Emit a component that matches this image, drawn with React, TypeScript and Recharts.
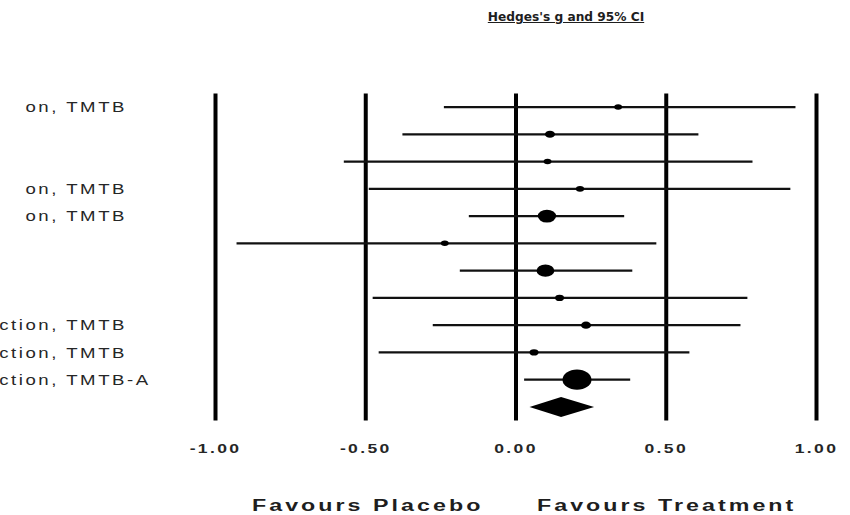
import React from 'react';
import { ScatterChart, Scatter, XAxis, YAxis, ReferenceLine, ErrorBar } from 'recharts';

// ---- data ----
const studyLabels = ['on, TMTB', '', '', 'on, TMTB', 'on, TMTB', '', '', '', 'ction, TMTB', 'ction, TMTB', 'ction, TMTB-A'];
const hedgesG = [0.34, 0.113, 0.105, 0.213, 0.103, -0.237, 0.098, 0.145, 0.233, 0.06, 0.203];
const lowerCI = [-0.24, -0.378, -0.573, -0.49, -0.157, -0.93, -0.187, -0.477, -0.277, -0.457, 0.027];
const upperCI = [0.93, 0.607, 0.787, 0.913, 0.36, 0.467, 0.387, 0.77, 0.747, 0.577, 0.38];
const weights = [2.9, 4.9, 2.9, 3.3, 15.8, 2.9, 15.0, 3.8, 4.9, 3.8, 39.6];
const summaryG = 0.15;
const summaryLower = 0.045;
const summaryUpper = 0.26;
const xTicks = [-1, -0.5, 0, 0.5, 1];
const title = "Hedges's g and 95% CI";
const leftCaption = 'Favours Placebo';
const rightCaption = 'Favours Treatment';

// ---- layout ----
const W = 850;
const H = 515;
const MARGIN = { top: 93.4, right: 33.5, bottom: 64.4, left: 0 };
const Y_AXIS_W = 215.5;
const PLOT_W = W - MARGIN.left - MARGIN.right - Y_AXIS_W;
const X_MIN = -1;
const X_MAX = 1;

const studies = hedgesG.map((g, i) => ({
  row: i + 1,
  g,
  err: [g - lowerCI[i], upperCI[i] - g],
  weight: weights[i],
}));
const summary = [{ row: studies.length + 1, g: summaryG, lower: summaryLower, upper: summaryUpper }];
const rowTicks = studies.map((s) => s.row);

const textColor = '#1e1e1e';
const sansFont = '"Liberation Sans", Arial, sans-serif';

const WeightMarker = (props: any) => {
  const { cx, cy, payload } = props;
  if (cx == null || cy == null) return <g />;
  const rx = Math.sqrt(payload.weight) * 2.3;
  const ry = rx * 0.7;
  return <ellipse cx={cx} cy={cy} rx={rx} ry={ry} fill="#000" />;
};

const SummaryDiamond = (props: any) => {
  const { cx, cy, payload, xAxis } = props;
  if (cx == null || cy == null) return <g />;
  const scale = xAxis && xAxis.scale;
  let left: number;
  let right: number;
  if (typeof scale === 'function') {
    left = scale(payload.lower);
    right = scale(payload.upper);
  } else {
    const ppu = PLOT_W / (X_MAX - X_MIN);
    left = cx - (payload.g - payload.lower) * ppu;
    right = cx + (payload.upper - payload.g) * ppu;
  }
  const h = 10;
  return <polygon points={`${left},${cy} ${cx},${cy - h} ${right},${cy} ${cx},${cy + h}`} fill="#000" />;
};

const RowLabel = (props: any) => {
  const { x, y, payload } = props;
  const label = studyLabels[payload.value - 1] || '';
  if (!label) return <g />;
  const cut = label.indexOf('TMTB') + 4;
  const main = label.slice(0, cut);
  const tail = label.slice(cut);
  const common = {
    y: 0,
    dominantBaseline: 'central' as const,
    fontFamily: sansFont,
    fontSize: 14,
    letterSpacing: 1.9,
    fill: '#262626',
  };
  return (
    <g transform={`translate(${x},${y}) scale(1.33,1)`}>
      <text x={0} textAnchor="end" {...common}>{main}</text>
      {tail ? <text x={0} textAnchor="start" {...common}>{tail}</text> : null}
    </g>
  );
};

const XTickLabel = (props: any) => {
  const { x, y, payload } = props;
  return (
    <g transform={`translate(${x},${y}) scale(1.3,1)`}>
      <text
        x={0}
        y={0}
        textAnchor="middle"
        dominantBaseline="central"
        fontFamily={sansFont}
        fontSize={13.5}
        fontWeight="bold"
        letterSpacing={1.8}
        fill="#262626"
      >
        {payload.value.toFixed(2)}
      </text>
    </g>
  );
};

const captionStyle: React.CSSProperties = {
  position: 'absolute',
  top: 498,
  fontFamily: sansFont,
  fontSize: 16,
  fontWeight: 'bold',
  letterSpacing: 2.1,
  lineHeight: '16px',
  whiteSpace: 'nowrap',
  color: textColor,
  transform: 'scaleX(1.45)',
  transformOrigin: 'left center',
};

export default function App() {
  return (
    <div style={{ position: 'absolute', left: 0, top: 0, width: W, height: H, background: '#fff', overflow: 'hidden' }}>
      <ScatterChart width={W} height={H} margin={MARGIN}>
        <XAxis
          type="number"
          dataKey="g"
          domain={[X_MIN, X_MAX]}
          ticks={xTicks}
          axisLine={false}
          tickLine={false}
          tickSize={0}
          tickMargin={28}
          height={30}
          tick={<XTickLabel />}
          allowDataOverflow
        />
        <YAxis
          type="number"
          dataKey="row"
          domain={[0.5, studies.length + 1.5]}
          ticks={rowTicks}
          reversed
          axisLine={false}
          tickLine={false}
          tickSize={0}
          tickMargin={88.5}
          width={Y_AXIS_W}
          tick={<RowLabel />}
          interval={0}
        />
        {xTicks.map((v) => (
          <ReferenceLine key={v} x={v} stroke="#000" strokeWidth={4} />
        ))}
        <Scatter data={studies} shape={<WeightMarker />} isAnimationActive={false}>
          <ErrorBar dataKey="err" direction="x" width={0} stroke="#111" strokeWidth={2.2} isAnimationActive={false} />
        </Scatter>
        <Scatter data={summary} shape={<SummaryDiamond />} isAnimationActive={false} />
      </ScatterChart>
      <div
        style={{
          position: 'absolute',
          left: 566,
          top: 10,
          transform: 'translateX(-50%)',
          fontFamily: '"DejaVu Sans", Verdana, sans-serif',
          fontSize: 12.2,
          fontWeight: 'bold',
          lineHeight: '14px',
          whiteSpace: 'nowrap',
          textDecoration: 'underline',
          color: textColor,
        }}
      >
        {title}
      </div>
      <div style={{ ...captionStyle, left: 252 }}>{leftCaption}</div>
      <div style={{ ...captionStyle, left: 537 }}>{rightCaption}</div>
    </div>
  );
}
